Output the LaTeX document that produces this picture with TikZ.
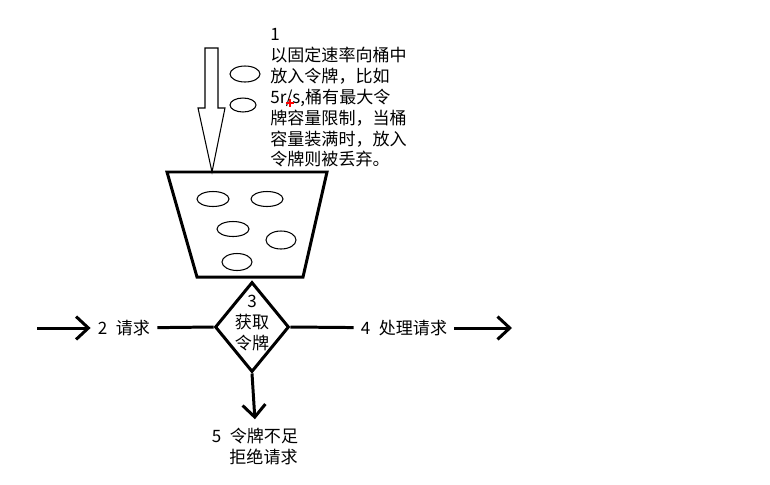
\documentclass[tikz,border=0pt]{standalone}
\usepackage{fontspec}
\newfontfamily\cjk{Noto Sans CJK SC}
\usetikzlibrary{arrows.meta}
\usetikzlibrary{shapes.geometric}
\usetikzlibrary{positioning}

\tikzset{
  thickline/.style={line width=1.7pt},
  flow/.style={thickline,-{Straight Barb[length=7pt,width=13pt]}},
  token/.style={line width=0.6pt},
  txt/.style={font=\cjk\fontsize{9.7}{11.9}\selectfont,inner sep=4pt},
}

\begin{document}
\begin{tikzpicture}[x=0.02cm,y=-0.02cm]
\useasboundingbox (0,0) rectangle (770,484);

% hollow arrow: tokens go into the bucket
\draw[line width=0.6pt] (205,48) -- (218,48) -- (218,108) -- (225,108)
  -- (212,172) -- (198,108) -- (205,108) -- cycle;

% the bucket
\draw[thickline] (167,172) -- (327,172) -- (303,277) -- (197,277) -- cycle;

% tokens falling and tokens in the bucket
\foreach \cx/\cy/\rx/\ry in {245/74/15/8,243/105/13/7,
  213/199/16/7.5,267/199/16/7.5,233/229/16/7.5,281/240/15/9,237/262/15/8.5}
{
	\draw[token] (\cx,\cy) ellipse [x radius=\rx, y radius=\ry];
}

\node[txt,inner sep=0pt,anchor=north west,align=left] (note) at (270,28)
  {1\\以固定速率向桶中\\放入令牌，比如\\5r/s,桶有最大令\\牌容量限制，当桶\\容量装满时，放入\\令牌则被丢弃。};
% red cursor mark
\draw[red,line width=1pt] (286,103) -- (294,103) (290,99) -- (290,107);

% get a token
\node[diamond,draw,thickline,minimum width=1.48cm,minimum height=1.8cm,inner sep=0pt] (get) at (252,327) {};
\node[txt,align=center,inner sep=0pt] (getlbl) at (252,323) {3\\获取\\令牌};

\coordinate (in) at (37,328);
\node[txt] (req) at (124,328) {2\enspace 请求};
\node[txt] (proc) at (404,328) {4\enspace 处理请求};
\coordinate (out) at (512,328);
\node[txt,anchor=north,align=center] (rej) at (255,421) {5\enspace 令牌不足\\\hspace*{1em}拒绝请求};

\draw[flow] (in) -- (req);
\draw[thickline] (req) -- (get.west);
\draw[thickline] (get.east) -- (proc);
\draw[flow] (proc) -- (out);
\draw[flow,shorten >=1pt] (get.south) -- (rej.north);

\end{tikzpicture}
\end{document}
